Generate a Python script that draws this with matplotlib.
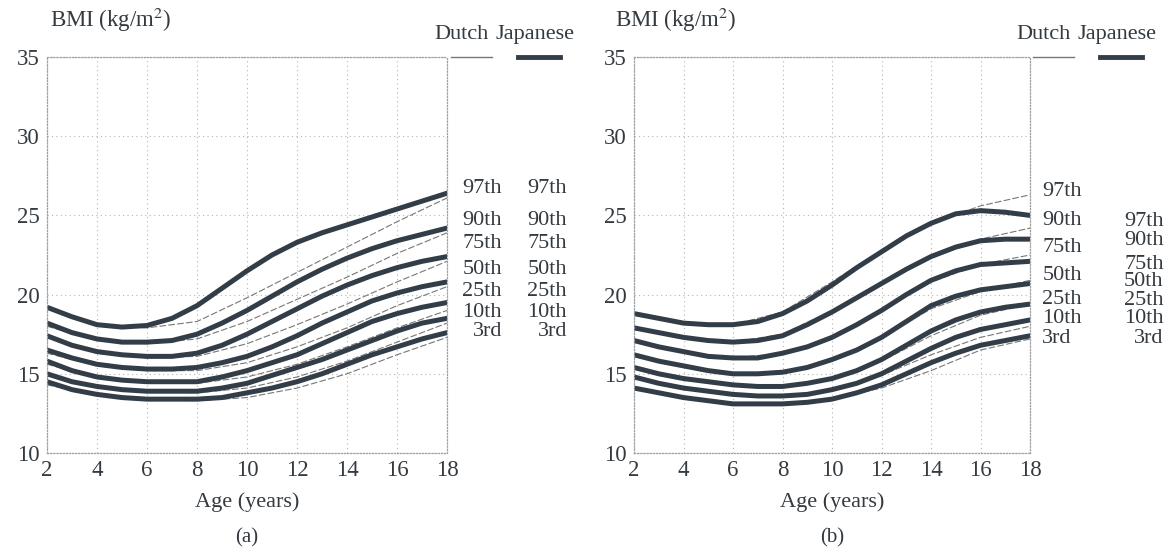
import matplotlib.pyplot as plt

plt.rcParams['font.family'] = ['Liberation Serif', 'DejaVu Serif']

labels = ['97th', '90th', '75th', '50th', '25th', '10th', '3rd']
ages = list(range(2, 19))
ages_d = list(range(2, 19, 2))

# panel (a): Japanese curves, yearly
jap_a = [
    [19.2, 18.6, 18.1, 17.95, 18.05, 18.5, 19.3, 20.4, 21.5, 22.5, 23.3, 23.9, 24.4, 24.9, 25.4, 25.9, 26.4],
    [18.2, 17.6, 17.2, 17.0, 17.0, 17.1, 17.5, 18.2, 19.0, 19.9, 20.8, 21.6, 22.3, 22.9, 23.4, 23.8, 24.2],
    [17.4, 16.8, 16.4, 16.2, 16.1, 16.1, 16.3, 16.8, 17.5, 18.3, 19.1, 19.9, 20.6, 21.2, 21.7, 22.1, 22.4],
    [16.5, 16.0, 15.6, 15.4, 15.3, 15.3, 15.4, 15.7, 16.1, 16.7, 17.4, 18.2, 18.9, 19.6, 20.1, 20.5, 20.8],
    [15.8, 15.2, 14.8, 14.6, 14.5, 14.5, 14.5, 14.8, 15.2, 15.7, 16.2, 16.9, 17.6, 18.3, 18.8, 19.2, 19.5],
    [15.0, 14.5, 14.2, 14.0, 13.9, 13.9, 13.9, 14.1, 14.4, 14.9, 15.4, 15.9, 16.5, 17.1, 17.7, 18.2, 18.5],
    [14.5, 14.0, 13.7, 13.5, 13.4, 13.4, 13.4, 13.5, 13.8, 14.1, 14.5, 15.0, 15.6, 16.2, 16.7, 17.2, 17.6],
]
# panel (a): Dutch curves, every 2 years
dut_a = [
    [19.1, 18.0, 17.9, 18.3, 19.8, 21.4, 23.0, 24.6, 26.1],
    [18.0, 17.1, 16.9, 17.2, 18.3, 19.7, 21.1, 22.6, 23.9],
    [17.3, 16.3, 16.0, 16.1, 16.9, 18.1, 19.4, 20.8, 22.1],
    [16.3, 15.5, 15.2, 15.2, 15.7, 16.7, 17.9, 19.3, 20.5],
    [15.6, 14.8, 14.5, 14.4, 14.8, 15.6, 16.7, 17.9, 19.0],
    [14.9, 14.2, 13.9, 13.8, 14.1, 14.8, 15.8, 17.0, 18.2],
    [14.3, 13.7, 13.4, 13.3, 13.5, 14.1, 15.0, 16.2, 17.3],
]
# panel (b)
jap_b = [
    [18.8, 18.5, 18.2, 18.1, 18.1, 18.3, 18.8, 19.6, 20.6, 21.7, 22.7, 23.7, 24.5, 25.1, 25.3, 25.2, 25.0],
    [17.9, 17.6, 17.3, 17.1, 17.0, 17.1, 17.4, 18.1, 18.9, 19.8, 20.7, 21.6, 22.4, 23.0, 23.4, 23.5, 23.5],
    [17.1, 16.7, 16.4, 16.1, 16.0, 16.0, 16.3, 16.7, 17.3, 18.1, 19.0, 20.0, 20.9, 21.5, 21.9, 22.0, 22.1],
    [16.2, 15.8, 15.5, 15.2, 15.0, 15.0, 15.1, 15.4, 15.9, 16.5, 17.3, 18.3, 19.3, 19.9, 20.3, 20.5, 20.7],
    [15.4, 15.0, 14.7, 14.5, 14.3, 14.2, 14.2, 14.4, 14.7, 15.2, 15.9, 16.8, 17.7, 18.4, 18.9, 19.2, 19.4],
    [14.8, 14.4, 14.1, 13.9, 13.7, 13.6, 13.6, 13.7, 14.0, 14.4, 15.0, 15.8, 16.6, 17.3, 17.8, 18.1, 18.4],
    [14.1, 13.8, 13.5, 13.3, 13.1, 13.1, 13.1, 13.2, 13.4, 13.8, 14.3, 15.0, 15.7, 16.3, 16.8, 17.1, 17.4],
]
dut_b = [
    [18.7, 18.2, 18.1, 18.9, 20.8, 22.8, 24.5, 25.6, 26.3],
    [17.8, 17.3, 17.0, 17.5, 19.0, 20.7, 22.3, 23.5, 24.2],
    [17.0, 16.4, 16.0, 16.3, 17.3, 19.0, 20.8, 21.9, 22.5],
    [16.1, 15.5, 15.0, 15.1, 15.9, 17.3, 19.1, 20.2, 20.9],
    [15.4, 14.7, 14.3, 14.2, 14.7, 15.8, 17.4, 18.7, 19.4],
    [14.7, 14.1, 13.7, 13.6, 14.0, 14.9, 16.2, 17.3, 18.0],
    [14.0, 13.5, 13.1, 13.1, 13.4, 14.1, 15.2, 16.5, 17.2],
]

# label heights (data units) for the two label columns
lab_a1 = [26.7, 24.7, 23.2, 21.6, 20.2, 18.9, 17.7]
lab_a2 = [26.7, 24.7, 23.2, 21.6, 20.2, 18.9, 17.7]
lab_b1 = [26.5, 24.7, 23.0, 21.2, 19.7, 18.5, 17.2]
lab_b2 = [24.6, 23.4, 21.9, 20.8, 19.6, 18.5, 17.2]

W, H = 1175, 554
fig = plt.figure(figsize=(W / 100, H / 100), dpi=100)

jcol = '#333d48'
dcol = '#777777'
tcol = '#333a40'


def px(x0, x1, y_top, y_bot):
    return [x0 / W, 1 - y_bot / H, (x1 - x0) / W, (y_bot - y_top) / H]


def panel(rect, jap, dut, l1, l2, c1x, c1ha, c2x, tag, legx, bmix):
    ax = fig.add_axes(rect)
    for row in dut:
        ax.plot(ages_d, row, color=dcol, lw=0.8, ls=(0, (6, 2)))
    for row in jap:
        ax.plot(ages, row, color=jcol, lw=3.6, solid_capstyle='round', solid_joinstyle='round')
    ax.set_xlim(2, 18)
    ax.set_ylim(10, 35)
    ax.set_xticks(range(2, 19, 2))
    ax.set_yticks(range(10, 36, 5))
    ax.tick_params(length=0, labelsize=16.5, labelcolor=tcol, pad=5)
    ax.grid(ls=(0, (1, 3)), color='#b5b5b5', lw=0.8)
    for s in ax.spines.values():
        s.set_linestyle((0, (1, 1.5)))
        s.set_color('#a0a0a0')
        s.set_linewidth(0.9)
    ax.set_xlabel('Age (years)', fontsize=16, color=tcol, labelpad=8)
    for lab, y in zip(labels, l1):
        ax.text(c1x, y, lab, ha=c1ha, va='center', fontsize=16, color=tcol, clip_on=False)
    for lab, y in zip(labels, l2):
        ax.text(c2x, y, lab, ha='right', va='center', fontsize=16, color=tcol, clip_on=False)
    ax.text(0.5, -0.215, tag, transform=ax.transAxes, ha='center', va='center', fontsize=15, color=tcol)
    # titles and legend
    fig.text(bmix / W, 1 - 20 / H, r'BMI (kg/m$^2$)', fontsize=16.5, color=tcol, va='center',
             math_fontfamily='stix')
    fig.text(legx / W, 1 - 39 / H, 'Dutch', fontsize=16, color=tcol, va='baseline')
    fig.text((legx + 61) / W, 1 - 39 / H, 'Japanese', fontsize=16, color=tcol, va='baseline')
    fig.add_artist(plt.Line2D([(legx + 17) / W, (legx + 58) / W], [1 - 57 / H] * 2, color=dcol, lw=1.0))
    fig.add_artist(plt.Line2D([(legx + 84) / W, (legx + 126) / W], [1 - 57 / H] * 2, color=jcol, lw=3.5))
    return ax


panel(px(47, 447, 57, 453), jap_a, dut_a, lab_a1, lab_a2, 20.2, 'right', 22.8, '(a)', 434, 50)
panel(px(634, 1030, 57, 453), jap_b, dut_b, lab_b1, lab_b2, 18.5, 'left', 23.4, '(b)', 1016, 615)

fig.savefig('out.png', dpi=100)
